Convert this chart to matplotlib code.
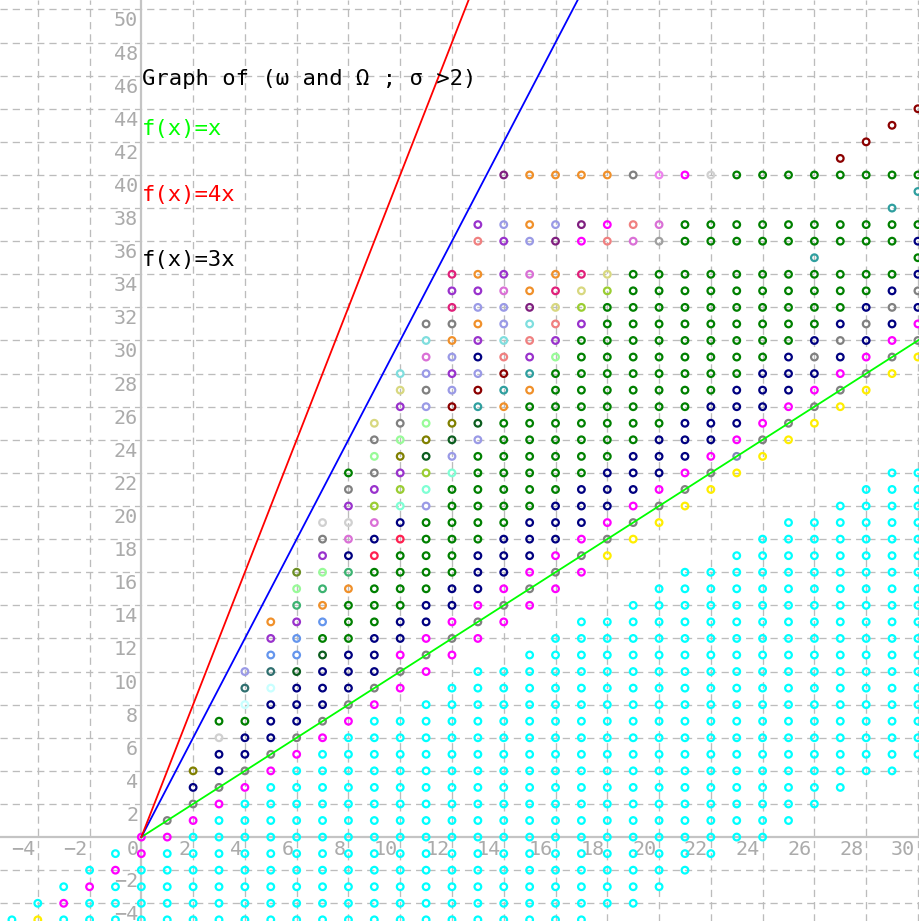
import matplotlib
matplotlib.use("Agg")
import matplotlib.pyplot as plt

plt.rcParams['lines.scale_dashes'] = False

# ---- data -------------------------------------------------------------
# integer columns shown in the plot
columns = list(range(-5, 31))

# cyan block of each column: lowest and highest y
cyan_lo = [-5, -4, -5, -5, -5, -5, -5, -5, -5, -5, -5, -5, -5, -5, -5, -5, -5, -5,
           -5, -5, -5, -5, -5, -4, -4, -3, -2, -1, 0, 0, 1, 2, 3, 4, 4, 5]
cyan_hi = [-5, -4, -3, -2, -1, -2, -1, 0, 1, 2, 3, 4, 5, 6, 7, 7, 8, 9,
           10, 10, 11, 12, 13, 13, 14, 15, 16, 16, 17, 18, 19, 19, 20, 21, 22, 22]

# coloured points above the cyan block: first y, then one code per unit step
# ('.' = no point)
code_start = [None, -5, -4, -3, -2, -1, 0, 1, 2, 3, 4, 5, 6, 7, 8, 8, 9, 10,
              11, 11, 12, 13, 14, 14, 15, 16, 17, 17, 18, 19, 20, 20, 21, 22, 23, 23]
code_rows = [
    "",
    "y",
    "m",
    "m",
    "m",
    "mm",
    "mg",
    "mgnv",
    "mgnnaG",
    "mgnnGwsl",
    "mgnnnwsbpo",
    "mgnnnDbbpSeO",
    "mgnnnDGboSepga",
    "mgnnnGGGoSniapgG",
    "mgnnnGGGGCniYpgegh",
    ".mgmnnGGGGCnqYpvegphu",
    ".mgmnnGGGGGlqYDvelgliug",
    ".mgmnnGGGGGGqlDvrlplogdpd",
    ".mgmnnnGGGGGGlDtrlnpolpo.kp",
    "..mgmnnnGGGGGGGotrkullip.pl..P",
    "..mgmnnnGGGGGGGotpkuPoi.lo..o",
    "..mgmnnnGGGGGGGGepkhdo.Pl..o",
    "..mgmnnnGGGGGGGGGpYhd.mP..o",
    "...ygmnnnGGGGGGGGGGYh.km..o",
    "...ygmnnnGGGGGGGGGGG.ik..g",
    "...ygmnnnGGGGGGGGGG.Ai..V",
    "...ygmnnnGGGGGGGGG.GG..m",
    "....ygmnnnGGGGGGGG.GG..a",
    "....yBmnnnGGGGGGG.GG..G",
    "....ygmnnnGGGGGG.GG..G",
    "....ygmnnnGGGGG.GG..G",
    ".....ygmngnGGGGtGG..G",
    ".....ygmngnGGG.GG..Gr",
    ".....ygmngnGG.GG..G.r",
    ".....ygmngnG.GGt.G..r",
    "......ygmngnGnG.tG...r",
]

palette = {
    'c': '#00ffff', 'm': '#ff00ff', 'g': '#808080', 'y': '#ffee00',
    'n': '#000080', 'G': '#008000', 'D': '#0b5d1e', 'r': '#8b0000',
    't': '#2f9f9f', 'o': '#f0902a', 'p': '#9932cc', 'P': '#7f1f7f',
    'l': '#9a9ae6', 'k': '#f08080', 'd': '#e0207a', 'h': '#d8d880',
    'Y': '#9acd32', 'e': '#98fb98', 'a': '#d0d0d0', 'A': '#a0a0a0',
    'u': '#7fdede', 'v': '#808000', 'i': '#da70d6', 'V': '#ee82ee',
    'C': '#ff2050', 'q': '#7fffd4', 'b': '#6495ed', 's': '#2f6f6f',
    'w': '#c8ffff', 'S': '#3cb371', 'O': '#6b8e23', 'B': '#7f86b8',
}

x_ticks = list(range(-4, 31, 2))
y_ticks = [v for v in range(-4, 51, 2) if v != 0]

line_slopes = [1, 3, 4]
line_colors = ['#00ff00', '#0000ff', '#ff0000']

title_text = "Graph of (\u03c9 and \u03a9 ; \u03c3 >2)"
legend_texts = ["f(x)=x", "f(x)=4x", "f(x)=3x"]
legend_colors = ['#00ff00', '#ff0000', '#000000']
legend_y = [42.8, 38.8, 34.85]

# ---- build point list -------------------------------------------------
points = {}
for x, lo, hi in zip(columns, cyan_lo, cyan_hi):
    for y in range(lo, hi + 1):
        points[(x, y)] = 'c'
for x, y0, row in zip(columns, code_start, code_rows):
    for k, ch in enumerate(row):
        if ch != '.':
            points[(x, y0 + k)] = ch

px = [p[0] for p in points]
py = [p[1] for p in points]
pc = [palette[v] for v in points.values()]

# ---- figure -----------------------------------------------------------
fig = plt.figure(figsize=(9.2, 9.21), dpi=100)
ax = fig.add_axes([0, 0, 1, 1])
ax.set_xlim(-5.46, 30.08)
ax.set_ylim(-5.07, 50.57)
ax.axis('off')

grid_kw = dict(color='#bcbcbc', lw=0.95, dashes=(5.2, 3.6), zorder=1)
for v in x_ticks:
    if v != 0:
        ax.axvline(v, **grid_kw)
for v in y_ticks:
    ax.axhline(v, **grid_kw)
ax.axhline(0, color='#c4c4c4', lw=1.6, zorder=1.5)
ax.axvline(0, color='#c4c4c4', lw=1.6, zorder=1.5)

tick_font = dict(family=['DejaVu Sans Mono'], size=14.5, color='#ababab', zorder=2)
for v in x_ticks:
    lab = str(v).replace('-', '\u2212')
    ax.text(v - 0.1, -0.2, lab, ha='right', va='top', **tick_font)
for v in y_ticks:
    lab = str(v).replace('-', '\u2212')
    ax.text(-0.12, v - 0.12, lab, ha='right', va='top', **tick_font)

ax.scatter(px, py, s=23, marker='o', facecolors='none', edgecolors=pc,
           linewidths=1.6, zorder=3)

for k, col in zip(line_slopes, line_colors):
    xe = min(30.08, 50.57 / k)
    ax.plot([0, xe], [0, k * xe], color=col, lw=1.3, zorder=4)

text_font = dict(family=['DejaVu Sans Mono'], size=16, zorder=5)
ax.text(0.02, 45.8, title_text, ha='left', va='center', color='black', **text_font)
for s, c, y in zip(legend_texts, legend_colors, legend_y):
    ax.text(0.02, y, s, ha='left', va='center', color=c, **text_font)

fig.savefig('out.png', dpi=100)
